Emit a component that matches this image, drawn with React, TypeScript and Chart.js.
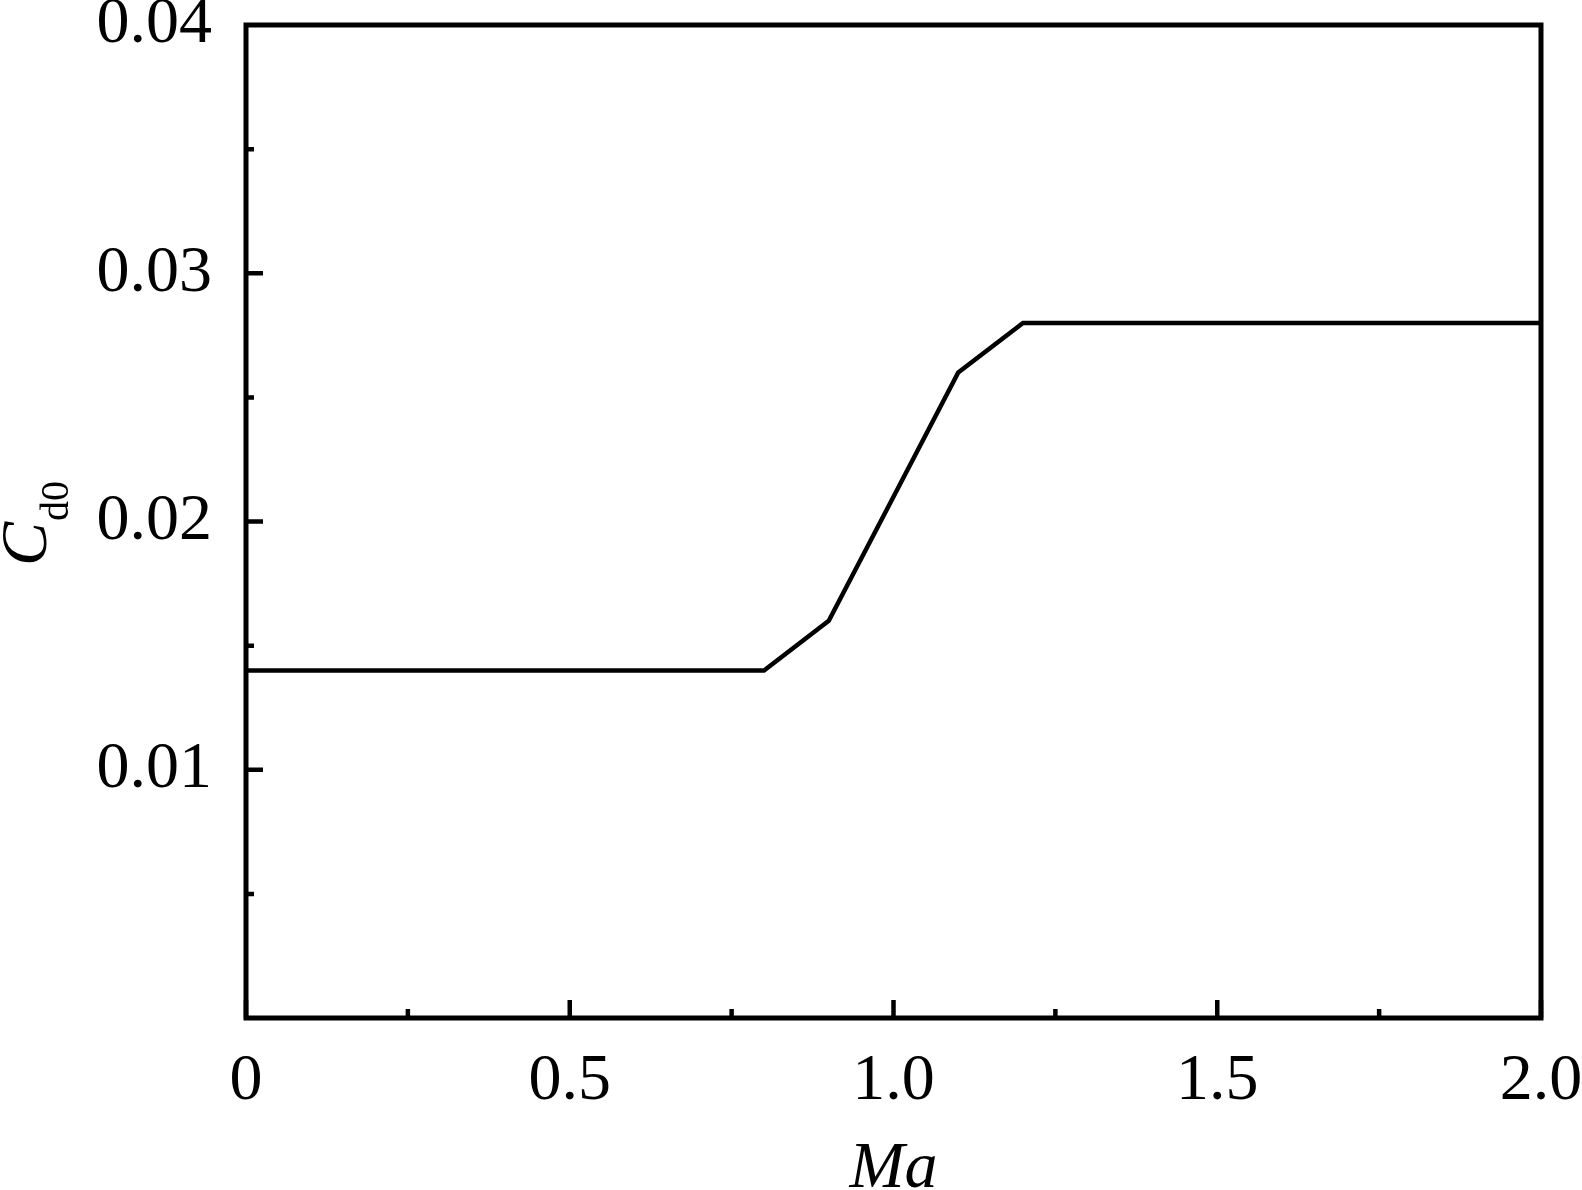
import React, { useEffect, useRef } from "react";
import { Chart, registerables } from "chart.js";

Chart.register(...registerables);

const machNumbers = [0, 0.8, 0.9, 1.0, 1.1, 1.2, 2.0];
const dragCoefficients = [0.014, 0.014, 0.016, 0.021, 0.026, 0.028, 0.028];
const xMajorTicks = [0, 0.5, 1.0, 1.5, 2.0];
const xMinorTicks = [0.25, 0.75, 1.25, 1.75];
const yMajorTicks = [0.01, 0.02, 0.03];
const yMinorTicks = [0.005, 0.015, 0.025, 0.035];
const xTitle = "Ma";
const yTitleMain = "C";
const yTitleSub = "d0";

const FONT = "'Liberation Serif', 'Times New Roman', serif";

const framePlugin = {
  id: "framePlugin",
  afterDraw(chart: any) {
    const { ctx, chartArea } = chart;
    const xs = chart.scales.x;
    const ys = chart.scales.y;
    const { left, right, top, bottom } = chartArea;
    ctx.save();
    ctx.strokeStyle = "#000";
    ctx.lineWidth = 5;
    ctx.lineCap = "butt";
    ctx.beginPath();
    ctx.rect(left, top, right - left, bottom - top);
    ctx.stroke();
    ctx.lineWidth = 4.5;
    ctx.beginPath();
    for (const v of yMajorTicks) {
      const p = ys.getPixelForValue(v);
      ctx.moveTo(left, p);
      ctx.lineTo(left + 17, p);
    }
    for (const v of yMinorTicks) {
      const p = ys.getPixelForValue(v);
      ctx.moveTo(left, p);
      ctx.lineTo(left + 8, p);
    }
    for (const v of xMajorTicks) {
      const p = xs.getPixelForValue(v);
      ctx.moveTo(p, bottom);
      ctx.lineTo(p, bottom - 18);
    }
    for (const v of xMinorTicks) {
      const p = xs.getPixelForValue(v);
      ctx.moveTo(p, bottom);
      ctx.lineTo(p, bottom - 9);
    }
    ctx.stroke();

    ctx.fillStyle = "#000";
    ctx.font = `italic 66px ${FONT}`;
    ctx.textAlign = "center";
    ctx.textBaseline = "alphabetic";
    ctx.fillText(xTitle, (left + right) / 2, 1187);

    ctx.translate(46, 566);
    ctx.rotate(-Math.PI / 2);
    ctx.textAlign = "left";
    ctx.font = `italic 66px ${FONT}`;
    ctx.fillText(yTitleMain, 0, 0);
    const w = ctx.measureText(yTitleMain).width;
    ctx.font = `40px ${FONT}`;
    ctx.fillText(yTitleSub, w + 1, 22);
    ctx.restore();
  },
};

export default function App() {
  const ref = useRef<HTMLCanvasElement>(null);
  useEffect(() => {
    document.body.style.margin = "0";
    const chart = new Chart(ref.current as HTMLCanvasElement, {
      type: "line",
      data: {
        datasets: [
          {
            data: machNumbers.map((m, i) => ({ x: m, y: dragCoefficients[i] })),
            borderColor: "#000",
            borderWidth: 4.5,
            pointRadius: 0,
            tension: 0,
            fill: false,
          },
        ],
      },
      options: {
        animation: false,
        responsive: false,
        maintainAspectRatio: false,
        layout: { padding: { top: 25, right: 41, left: 0, bottom: 0 } },
        plugins: { legend: { display: false }, tooltip: { enabled: false } },
        scales: {
          x: {
            type: "linear",
            min: 0,
            max: 2,
            grid: { display: false, drawTicks: false },
            border: { display: false },
            afterFit: (s: any) => {
              s.height = 172;
              s.paddingLeft = 0;
              s.paddingRight = 0;
            },
            ticks: {
              stepSize: 0.5,
              padding: 24,
              color: "#000",
              font: { family: FONT, size: 66 },
              maxRotation: 0,
              autoSkip: false,
              callback: (v: any) => (Number(v) === 0 ? "0" : Number(v).toFixed(1)),
            },
          },
          y: {
            type: "linear",
            min: 0,
            max: 0.04,
            grid: { display: false, drawTicks: false },
            border: { display: false },
            afterFit: (s: any) => {
              s.width = 246;
              s.paddingTop = 0;
              s.paddingBottom = 0;
            },
            ticks: {
              stepSize: 0.01,
              padding: 34,
              color: "#000",
              font: { family: FONT, size: 66 },
              callback: (v: any) => (Number(v) === 0 ? "" : Number(v).toFixed(2)),
            },
          },
        },
      },
      plugins: [framePlugin],
    });
    return () => chart.destroy();
  }, []);
  return (
    <div style={{ position: "absolute", left: 0, top: 0, width: 1582, height: 1190, background: "#fff" }}>
      <canvas ref={ref} width={1582} height={1190} style={{ width: 1582, height: 1190 }} />
    </div>
  );
}
